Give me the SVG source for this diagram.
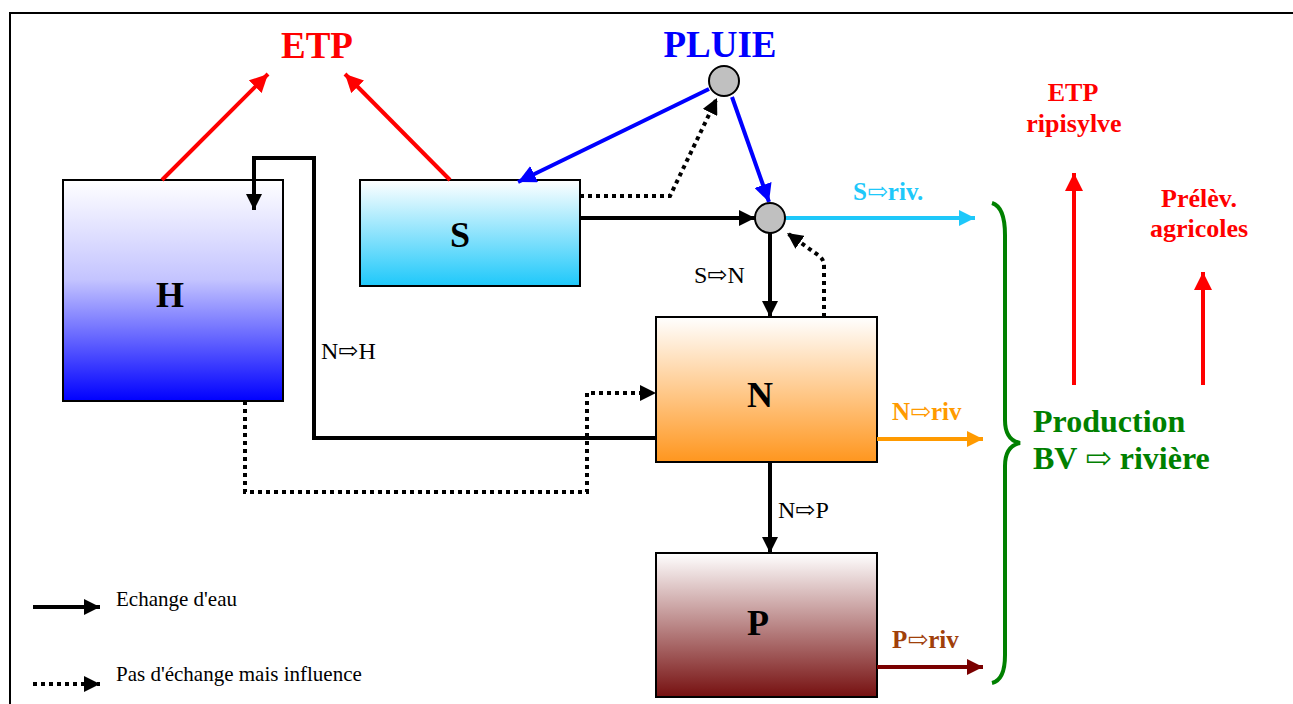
<svg xmlns="http://www.w3.org/2000/svg" width="1293" height="704" viewBox="0 0 1293 704">
  <style>
    .box { stroke: #000; stroke-width: 2; }
    .boxlabel { font-family: "Liberation Serif", "DejaVu Serif", serif; font-weight: bold; font-size: 36px; text-anchor: middle; fill: #000; }
    .title { font-family: "Liberation Serif", "DejaVu Serif", serif; font-weight: bold; font-size: 37px; text-anchor: middle; }
    .flow { font-family: "Liberation Serif", "DejaVu Serif", serif; font-size: 24px; fill: #000; }
    .bold { font-family: "Liberation Serif", "DejaVu Serif", serif; font-weight: bold; }
    .legend { font-family: "Liberation Serif", "DejaVu Serif", serif; font-size: 21px; fill: #000; }
    .solid { fill: none; stroke: #000; stroke-width: 4; }
    .dotted { fill: none; stroke: #000; stroke-width: 4; stroke-dasharray: 4 4; }
    .node { fill: #c0c0c0; stroke: #000; stroke-width: 2; }
  </style>
  <defs>
    <linearGradient id="gH" x1="0" y1="0" x2="0" y2="1">
      <stop offset="0" stop-color="#ffffff"/>
      <stop offset="0.45" stop-color="#c4c4ff"/>
      <stop offset="1" stop-color="#0000ff"/>
    </linearGradient>
    <linearGradient id="gS" x1="0" y1="0" x2="0" y2="1">
      <stop offset="0" stop-color="#ffffff"/>
      <stop offset="1" stop-color="#1ec8fa"/>
    </linearGradient>
    <linearGradient id="gN" x1="0" y1="0" x2="0" y2="1">
      <stop offset="0" stop-color="#ffffff"/>
      <stop offset="1" stop-color="#ff961e"/>
    </linearGradient>
    <linearGradient id="gP" x1="0" y1="0" x2="0" y2="1">
      <stop offset="0" stop-color="#ffffff"/>
      <stop offset="1" stop-color="#761010"/>
    </linearGradient>
    <marker id="aBlack" markerUnits="userSpaceOnUse" markerWidth="16" markerHeight="16" refX="16" refY="8" orient="auto">
      <path d="M0,0 L16,8 L0,16 z" fill="#000"/>
    </marker>
    <marker id="aRed" markerUnits="userSpaceOnUse" markerWidth="18" markerHeight="18" refX="18" refY="9" orient="auto">
      <path d="M0,0 L18,9 L0,18 z" fill="#ff0000"/>
    </marker>
    <marker id="aBlue" markerUnits="userSpaceOnUse" markerWidth="18" markerHeight="18" refX="18" refY="9" orient="auto">
      <path d="M0,0 L18,9 L0,18 z" fill="#0000ff"/>
    </marker>
    <marker id="aCyan" markerUnits="userSpaceOnUse" markerWidth="16" markerHeight="16" refX="16" refY="8" orient="auto">
      <path d="M0,0 L16,8 L0,16 z" fill="#1ec8fa"/>
    </marker>
    <marker id="aOrange" markerUnits="userSpaceOnUse" markerWidth="16" markerHeight="16" refX="16" refY="8" orient="auto">
      <path d="M0,0 L16,8 L0,16 z" fill="#ff9a00"/>
    </marker>
    <marker id="aDark" markerUnits="userSpaceOnUse" markerWidth="16" markerHeight="16" refX="16" refY="8" orient="auto">
      <path d="M0,0 L16,8 L0,16 z" fill="#7a0000"/>
    </marker>
  </defs>

  <rect width="1293" height="704" fill="#fff"/>
  <!-- page frame -->
  <rect x="10" y="13" width="1300" height="720" fill="none" stroke="#000" stroke-width="2"/>

  <!-- titles -->
  <text class="title" x="317" y="58" fill="#ff0000">ETP</text>
  <text class="title" x="720" y="57" fill="#0000ff">PLUIE</text>

  <!-- reservoirs -->
  <g id="node-H">
    <rect class="box" x="63" y="180" width="220" height="221" fill="url(#gH)"/>
    <text class="boxlabel" x="170" y="307">H</text>
  </g>
  <g id="node-S">
    <rect class="box" x="360" y="180" width="220" height="106" fill="url(#gS)"/>
    <text class="boxlabel" x="460" y="247">S</text>
  </g>
  <g id="node-N">
    <rect class="box" x="656" y="317" width="221" height="145" fill="url(#gN)"/>
    <text class="boxlabel" x="760" y="407">N</text>
  </g>
  <g id="node-P">
    <rect class="box" x="656" y="553" width="221" height="144" fill="url(#gP)"/>
    <text class="boxlabel" x="758" y="635">P</text>
  </g>

  <!-- connectors -->
  <g id="connectors">
    <!-- evapotranspiration -->
    <line x1="162" y1="180" x2="268" y2="74" stroke="#ff0000" stroke-width="4" marker-end="url(#aRed)"/>
    <line x1="450" y1="180" x2="345" y2="74" stroke="#ff0000" stroke-width="4" marker-end="url(#aRed)"/>
    <!-- rain split -->
    <line x1="709" y1="89" x2="518" y2="182" stroke="#0000ff" stroke-width="4" marker-end="url(#aBlue)"/>
    <line x1="732" y1="97" x2="769" y2="202" stroke="#0000ff" stroke-width="4" marker-end="url(#aBlue)"/>
    <!-- S influence on rain split -->
    <polyline class="dotted" points="580,196 670,196 717,98" marker-end="url(#aBlack)"/>
    <!-- S outflow -->
    <line class="solid" x1="580" y1="218" x2="755" y2="218" marker-end="url(#aBlack)"/>
    <!-- S to N -->
    <line class="solid" x1="770" y1="233" x2="770" y2="317" marker-end="url(#aBlack)"/>
    <!-- N influence on junction -->
    <path class="dotted" d="M824,317 L824,266 Q824,259 818,255 L787,233" marker-end="url(#aBlack)"/>
    <!-- S to river -->
    <line x1="785" y1="218" x2="975" y2="218" stroke="#1ec8fa" stroke-width="4" marker-end="url(#aCyan)"/>
    <!-- N to H -->
    <polyline class="solid" points="656,438 314,438 314,158 254,158 254,210" marker-end="url(#aBlack)"/>
    <!-- H influence on N -->
    <polyline class="dotted" points="245,401 245,492 587,492 587,393 656,393" marker-end="url(#aBlack)"/>
    <!-- N to P -->
    <line class="solid" x1="770" y1="462" x2="770" y2="553" marker-end="url(#aBlack)"/>
    <!-- N, P to river -->
    <line x1="877" y1="439" x2="983" y2="439" stroke="#ff9a00" stroke-width="4" marker-end="url(#aOrange)"/>
    <line x1="877" y1="667" x2="983" y2="667" stroke="#7a0000" stroke-width="4" marker-end="url(#aDark)"/>
    <!-- withdrawals -->
    <line x1="1074" y1="385" x2="1074" y2="173" stroke="#ff0000" stroke-width="4" marker-end="url(#aRed)"/>
    <line x1="1203" y1="385" x2="1203" y2="272" stroke="#ff0000" stroke-width="4" marker-end="url(#aRed)"/>
  </g>

  <!-- junction nodes -->
  <g id="node-rain">
    <circle class="node" cx="724" cy="81" r="15"/>
  </g>
  <g id="node-junction">
    <circle class="node" cx="770" cy="218" r="15"/>
  </g>

  <!-- flow labels -->
  <text class="flow" x="694" y="283">S⇨N</text>
  <text class="flow" x="321" y="359">N⇨H</text>
  <text class="flow" x="778" y="518">N⇨P</text>
  <text class="bold" x="853" y="200" font-size="25" fill="#1ec8fa">S⇨riv.</text>
  <text class="bold" x="892" y="420" font-size="25" fill="#ff9a00">N⇨riv</text>
  <text class="bold" x="892" y="648" font-size="25" fill="#a0400a">P⇨riv</text>

  <!-- catchment production -->
  <g id="brace">
    <path d="M992,203 Q1005,207 1005,235 L1005,420 Q1005,440 1020,443 Q1005,446 1005,466 L1005,655 Q1005,680 992,683" fill="none" stroke="#008000" stroke-width="4"/>
    <text class="bold" x="1033" y="432" font-size="32" fill="#008000">Production</text>
    <text class="bold" x="1033" y="469" font-size="32" fill="#008000">BV ⇨ rivière</text>
  </g>

  <g id="losses" class="bold" font-size="26" fill="#ff0000" text-anchor="middle">
    <text x="1073" y="101">ETP</text>
    <text x="1074" y="132">ripisylve</text>
    <text x="1199" y="207">Prélèv.</text>
    <text x="1199" y="237">agricoles</text>
  </g>

  <!-- legend -->
  <g id="legend">
    <line class="solid" x1="33" y1="607" x2="100" y2="607" marker-end="url(#aBlack)"/>
    <text class="legend" x="116" y="606">Echange d'eau</text>
    <line class="dotted" x1="33" y1="684" x2="100" y2="684" marker-end="url(#aBlack)"/>
    <text class="legend" x="116" y="681">Pas d'échange mais influence</text>
  </g>
</svg>
